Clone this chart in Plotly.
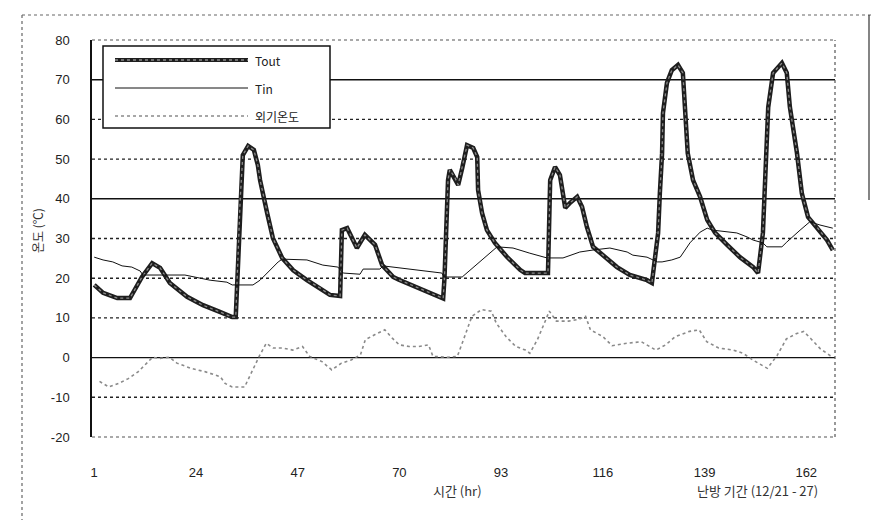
import plotly.graph_objects as go

# ---------------- data ----------------
tout_hour = [1, 3.0, 6.2, 9.1, 11.8, 14.1, 15.9, 18.1, 22.0, 25.6, 29.4, 32.2, 33.0, 34.0, 34.6, 35.8,
             37.1, 38.0, 38.5, 40.1, 41.4, 43.5, 46.0, 49.1, 52.1, 54.3, 56.6, 57.0, 58.2, 60.4, 62.2,
             64.5, 66.1, 68.6, 69.9, 74.4, 79.2, 79.9, 80.2, 81.0, 81.4, 82.6, 83.3, 84.2, 85.3, 86.7,
             87.6, 87.8, 88.7, 89.8, 91.6, 94.3, 97.3, 98.4, 103.4, 103.6, 104.1, 105.2, 106.3, 107.0,
             107.5, 108.6, 110.2, 111.3, 112.4, 113.8, 116.0, 119.2, 122.1, 126.0, 127.1, 127.8, 128.5,
             128.9, 129.4, 129.6, 130.5, 131.6, 133.0, 134.1, 134.6, 135.2, 136.4, 138.0, 139.6, 141.4,
             144.1, 147.0, 150.0, 151.1, 152.2, 152.7, 153.4, 154.5, 156.5, 157.6, 158.3, 159.9, 161.0,
             162.4, 164.4, 166.7, 168]
tout_val = [18.3, 16.3, 15.0, 15.0, 20.3, 23.8, 22.6, 18.8, 15.3, 13.2, 11.5, 10.2, 10.2, 39.7, 51.0, 53.3,
            52.3, 48.5, 44.7, 36.4, 30.1, 25.1, 22.0, 19.5, 17.5, 15.8, 15.5, 32.1, 32.6, 27.6, 30.9,
            28.4, 23.3, 20.3, 19.6, 17.5, 15.3, 14.9, 20.0, 44.7, 47.3, 45.2, 43.5, 47.7, 53.5, 52.8,
            50.5, 42.2, 36.4, 32.1, 28.9, 25.4, 22.1, 21.3, 21.3, 21.3, 44.7, 48.0, 46.0, 41.0,
            37.7, 39.0, 40.5, 38.0, 32.9, 27.9, 25.8, 22.8, 20.8, 19.5, 18.8, 25.3, 31.4,
            41.4, 51.5, 61.6, 69.2, 72.4, 73.7, 71.7, 61.6, 51.5, 44.7, 40.5, 34.7, 31.4,
            28.4, 25.3, 22.8, 21.3, 31.4, 46.5, 63.1, 71.7, 74.2, 71.7, 63.1, 51.5, 41.4,
            35.4, 32.9, 29.6, 27.1]

tin_hour = [1, 3.0, 5.2, 7.3, 9.5, 11.4, 12.0, 21.5, 27.2, 31.0, 32.2, 36.9, 38.5, 40.7, 42.6, 43.5,
            49.1, 52.7, 56.1, 57.3, 61.1, 61.8, 65.6, 66.3, 70.1, 77.4, 79.6, 80.1, 84.2, 92.1, 95.7,
            99.5, 103.4, 107.0, 110.8, 113.8, 117.6, 121.5, 122.8, 126.0, 128.3, 129.4, 131.6, 133.5,
            135.7, 138.0, 139.6, 140.9, 144.1, 146.3, 148.6, 150.0, 152.2, 153.1, 156.5, 157.6, 160.6,
            162.8, 165.1, 168]
tin_val = [25.3, 24.6, 24.1, 23.1, 22.8, 21.8, 20.8, 20.8, 19.5, 19.0, 18.3, 18.3, 19.5, 22.0, 24.1, 24.8,
           24.6, 23.3, 22.8, 21.3, 21.0, 22.3, 22.3, 23.1, 22.6, 21.6, 21.3, 20.3, 20.3, 27.9, 27.6,
           26.3, 25.1, 25.1, 26.6, 27.1, 27.6, 26.6, 25.8, 25.3, 24.1, 24.1, 24.6, 25.3,
           28.9, 31.6, 32.6, 32.1, 31.6, 31.4, 30.4, 29.6, 28.9, 27.9, 27.9, 29.1, 32.1,
           34.2, 33.4, 32.6]

out_hour = [2.2, 4.3, 6.5, 8.7, 10.9, 13.1, 14.2, 15.8, 18.0, 19.7, 22.9, 26.2, 29.5, 30.6, 32.2, 35.0,
            36.1, 38.3, 39.9, 41.5, 43.7, 45.9, 48.1, 49.7, 52.5, 54.7, 56.9, 59.1, 61.2, 62.3, 64.5,
            66.7, 68.4, 70.0, 72.2, 74.4, 76.6, 77.6, 80.9, 83.1, 84.2, 85.3, 86.4, 88.6, 90.8, 91.9,
            94.1, 96.3, 98.5, 99.5, 101.2, 102.8, 103.9, 105.5, 108.3, 110.5, 112.1, 113.2, 116.0,
            118.1, 121.4, 124.7, 128.0, 130.2, 132.4, 135.6, 137.8, 139.5, 142.2, 145.5, 147.7, 149.9,
            153.2, 155.4, 157.5, 159.7, 161.4, 163.0, 165.2, 167.4, 168]
out_val = [-6.0, -7.4, -6.5, -5.3, -3.6, -1.0, 0.1, -0.2, 0.1, -1.4, -2.7, -3.6, -4.8, -6.5, -7.4, -7.4,
           -4.8, 0.3, 3.6, 2.4, 2.4, 1.9, 2.8, 0.3, -1.0, -3.1, -1.4, -0.6, 0.7, 4.5, 5.8,
           7.0, 4.9, 3.2, 2.8, 2.8, 3.2, 0.3, 0.1, 0.3, 3.6, 7.0, 10.4, 12.1, 11.7, 8.7,
           5.3, 2.8, 1.9, 1.1, 4.5, 8.7, 11.7, 9.2, 9.2, 9.6, 10.4, 7.0, 5.3,
           3.0, 3.6, 4.0, 1.9, 3.2, 5.3, 6.6, 7.0, 4.0, 2.4, 1.9, 1.1, -0.6,
           -2.7, 0.5, 4.7, 6.0, 6.6, 4.8, 2.2, 0.5, 0.4]

x_ticks = [1, 24, 47, 70, 93, 116, 139, 162]
y_ticks = [-20, -10, 0, 10, 20, 30, 40, 50, 60, 70, 80]
grid_solid = [70, 40, 0]
grid_dotted = [60, 50, 30, 20, 10, -10]

series_names = ["Tout", "Tin", "외기온도"]

FONT = "Liberation Sans, Arial, Noto Sans CJK KR, sans-serif"
KFONT = "Noto Sans CJK KR, Liberation Sans, sans-serif"

# ---------------- layout helpers (pixel -> paper) ----------------
L, R, T, B = 92, 835, 40, 437
def px(x):
    return (x - L) / (R - L)
def py(y):
    return (B - y) / (B - T)

fig = go.Figure()

# Tout: thick dark line with a lighter core to imitate the scanned texture
fig.add_trace(go.Scatter(x=tout_hour, y=tout_val, mode="lines", name=series_names[0],
                         line=dict(color="#1e1e1e", width=4.5), showlegend=False))
fig.add_trace(go.Scatter(x=tout_hour, y=tout_val, mode="lines", name=series_names[0] + " core",
                         line=dict(color="#8a8a8a", width=1.3, dash="dot"), showlegend=False,
                         hoverinfo="skip"))
fig.add_trace(go.Scatter(x=tin_hour, y=tin_val, mode="lines", name=series_names[1],
                         line=dict(color="#111111", width=1), showlegend=False))
fig.add_trace(go.Scatter(x=out_hour, y=out_val, mode="lines", name=series_names[2],
                         line=dict(color="#8a8a8a", width=1.6, dash="dot"), showlegend=False))

shapes = []
# gridlines
for g in grid_solid:
    shapes.append(dict(type="line", xref="paper", yref="y", x0=0, x1=1, y0=g, y1=g,
                       line=dict(color="#111111", width=1.4), layer="below"))
for g in grid_dotted:
    shapes.append(dict(type="line", xref="paper", yref="y", x0=0, x1=1, y0=g, y1=g,
                       line=dict(color="#222222", width=1.4, dash="dot"), layer="below"))
# plot frame: top / right / bottom dotted, left solid (axis line)
shapes.append(dict(type="line", xref="paper", yref="paper", x0=0, x1=1, y0=1, y1=1,
                   line=dict(color="#555555", width=1.2, dash="dot")))
shapes.append(dict(type="line", xref="paper", yref="paper", x0=0, x1=1, y0=0, y1=0,
                   line=dict(color="#555555", width=1.2, dash="dot")))
shapes.append(dict(type="line", xref="paper", yref="paper", x0=1, x1=1, y0=0, y1=1,
                   line=dict(color="#555555", width=1.2, dash="dot")))
# outer page frame
shapes.append(dict(type="line", xref="paper", yref="paper", x0=px(22), x1=px(22), y0=py(15), y1=py(520),
                   line=dict(color="#666666", width=1.2, dash="dot")))
shapes.append(dict(type="line", xref="paper", yref="paper", x0=px(22), x1=px(871), y0=py(15), y1=py(15),
                   line=dict(color="#666666", width=1.2, dash="dot")))
shapes.append(dict(type="line", xref="paper", yref="paper", x0=px(869), x1=px(869), y0=py(15), y1=py(200),
                   line=dict(color="#333333", width=1.2)))

# manual legend (long sample lines as in the reference)
shapes.append(dict(type="rect", xref="paper", yref="paper", x0=px(103), x1=px(330), y0=py(128), y1=py(46),
                   line=dict(color="#111111", width=1.5), fillcolor="white"))
leg_y = [60, 88, 116]
leg_styles = [dict(color="#1e1e1e", width=4), dict(color="#111111", width=1),
              dict(color="#8a8a8a", width=1.6, dash="dot")]
for yy, st in zip(leg_y, leg_styles):
    shapes.append(dict(type="line", xref="paper", yref="paper", x0=px(115), x1=px(248), y0=py(yy), y1=py(yy),
                       line=st))
shapes.append(dict(type="line", xref="paper", yref="paper", x0=px(115), x1=px(248), y0=py(60), y1=py(60),
                   line=dict(color="#8a8a8a", width=1.3, dash="dot")))

annotations = []
for yy, nm in zip(leg_y, series_names):
    annotations.append(dict(xref="paper", yref="paper", x=px(253), y=py(yy), text=nm, showarrow=False,
                            xanchor="left", yanchor="middle", font=dict(family=KFONT, size=12, color="#222")))
annotations.append(dict(xref="paper", yref="paper", x=px(457), y=py(490), text="시간 (hr)", showarrow=False,
                        xanchor="center", yanchor="middle", font=dict(family=KFONT, size=13, color="#333")))
annotations.append(dict(xref="paper", yref="paper", x=px(757), y=py(490), text="난방 기간 (12/21 - 27)",
                        showarrow=False, xanchor="center", yanchor="middle",
                        font=dict(family=KFONT, size=13, color="#333")))
annotations.append(dict(xref="paper", yref="paper", x=px(37), y=py(230), text="온도 (℃)", showarrow=False,
                        textangle=-90, xanchor="center", yanchor="middle",
                        font=dict(family=KFONT, size=12, color="#333")))

fig.update_layout(
    width=871, height=520,
    margin=dict(l=L, r=871 - R, t=T, b=520 - B),
    paper_bgcolor="white", plot_bgcolor="white",
    showlegend=False,
    shapes=shapes, annotations=annotations,
    font=dict(family=FONT, size=13, color="#222"),
    xaxis=dict(range=[0.5, 168.5], tickvals=x_ticks, ticktext=[str(v) for v in x_ticks],
               showgrid=False, zeroline=False, showline=False, ticks="", ticklabelstandoff=26,
               tickfont=dict(family=FONT, size=13, color="#222")),
    yaxis=dict(range=[-20, 80], tickvals=y_ticks, ticktext=[str(v) for v in y_ticks],
               showgrid=False, zeroline=False, showline=True, linecolor="#111", linewidth=1.5,
               ticks="", ticklabelstandoff=18,
               tickfont=dict(family=FONT, size=13, color="#222")),
)

fig.write_html("out.html",
               config={"displayModeBar": False},
               post_script="document.body.style.margin='0';document.body.style.overflow='hidden';")
